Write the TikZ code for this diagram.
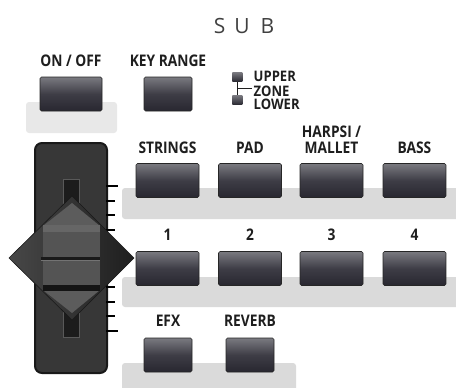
\documentclass[tikz,border=0pt]{standalone}
\usepackage{fontspec}
\newfontfamily\labfont[FakeStretch=0.86]{Open Sans}
\newfontfamily\zonefont[FakeStretch=0.9]{Open Sans}
\newfontfamily\subfont{Open Sans}
\definecolor{stripc}{RGB}{218,218,218}
\definecolor{onbg}{RGB}{232,232,232}
\definecolor{btop}{RGB}{122,122,128}
\definecolor{bmid}{RGB}{62,61,70}
\definecolor{bbot}{RGB}{40,39,48}
\definecolor{bodyc}{RGB}{55,55,55}
\definecolor{slotc}{RGB}{28,28,28}
\definecolor{capc}{RGB}{84,84,84}
\definecolor{capl}{RGB}{102,102,102}
\definecolor{txt}{RGB}{30,30,30}
\begin{document}
\begin{tikzpicture}[x=1pt,y=-1pt,
  btn/.style={rectangle, rounded corners=1.5pt, top color=btop, bottom color=bbot, middle color=bmid,
    draw=black!85, line width=0.6pt, inner sep=0, minimum height=34pt},
  wide/.style={btn, minimum width=63pt},
  narrow/.style={btn, minimum width=48pt},
  lab/.style={font=\labfont\bfseries\fontsize{16}{18}\selectfont, text=txt, inner sep=0, anchor=base},
  zlab/.style={font=\zonefont\bfseries\fontsize{14.5}{16}\selectfont, text=txt, inner sep=0, anchor=base west},
  strip/.style={fill=stripc, rounded corners=3pt},
  sq/.style={rectangle, inner sep=0, minimum width=10pt, minimum height=9.5pt, top color=btop, bottom color=bbot},
  tick/.style={line width=1.6pt, black}
]
\useasboundingbox (0,0) rectangle (456,388);

% title
\node[font=\subfont\fontsize{21}{24}\selectfont, text=black!75, inner sep=0, anchor=base] (sub) at (244,33) {S\hspace{9pt}U\hspace{11pt}B};

% background strips
\fill[fill=onbg, rounded corners=3pt] (26,102) rectangle (117,133);
\fill[strip] (122,188) rectangle (462,219);
\fill[strip] (122,277) rectangle (462,307);
\fill[strip] (122,363) rectangle (296,394);

% top buttons
\node[lab] (onoffl) at (71,66) {ON / OFF};
\node[lab] (keyl) at (168,66) {KEY RANGE};
\node[btn, minimum width=62pt] (onoff) at (71,94) {};
\node[narrow] (key) at (168,94) {};

% zone indicator
\node[sq] (zup) at (237.3,77) {};
\node[sq] (zlo) at (237.3,100) {};
\coordinate (zj) at (237.3,88.5);
\coordinate (zend) at (251.7,88.5);
\draw[line width=0.8pt, txt] (zup.south) -- (zlo.north);
\draw[line width=0.8pt, txt] (zj) -- (zend);
\node[zlab] (upper) at (253.5,81.7) {UPPER};
\node[zlab] (zone) at (253.5,96) {ZONE};
\node[zlab] (lower) at (253.5,109.5) {LOWER};

% row 1
\node[lab] (l1) at (167.5,153) {STRINGS};
\node[lab] (l2) at (250,153) {PAD};
\node[lab] (l3a) at (331.5,137) {HARPSI /};
\node[lab] (l3b) at (331.5,153) {MALLET};
\node[lab] (l4) at (414.5,153) {BASS};
\node[wide] (b1) at (167.5,180.5) {};
\node[wide] (b2) at (250,180.5) {};
\node[wide] (b3) at (331.5,180.5) {};
\node[wide] (b4) at (414.5,180.5) {};

% row 2
\node[lab] (n1) at (167.5,240) {1};
\node[lab] (n2) at (250,240) {2};
\node[lab] (n3) at (331.5,240) {3};
\node[lab] (n4) at (414.5,240) {4};
\node[wide] (c1) at (167.5,268.5) {};
\node[wide] (c2) at (250,268.5) {};
\node[wide] (c3) at (331.5,268.5) {};
\node[wide] (c4) at (414.5,268.5) {};

% row 3
\node[lab] (efxl) at (168,326) {EFX};
\node[lab] (revl) at (250,326) {REVERB};
\node[narrow] (efx) at (168,355) {};
\node[narrow] (rev) at (250,355) {};

% slider
\draw[fill=bodyc, draw=black!90, line width=2pt, rounded corners=7pt] (35,143) rectangle (107,373);
\draw[fill=slotc, draw=black!65, line width=0.6pt] (63,179) rectangle (79,337);
\foreach \yy/\xe in {186/118,201/115,215/115,230/115,287/115,302/115,316/115,331/118}
  \draw[tick] (106,\yy) -- (\xe,\yy);
% diamond
\draw[left color=black!72, right color=black!88, draw=black!90, line width=0.6pt]
  (9,258) -- (72,196) -- (134,258) -- (72,320) -- cycle;
\fill[black!64] (43,226) -- (72,203) -- (100,226) -- cycle;
\fill[black!64] (43,290) -- (100,290) -- (72,313) -- cycle;
\fill[capc] (43,225) rectangle (100,291);
\fill[capl] (43,225) rectangle (100,232);
\fill[black!90] (41,257) rectangle (100,260);
\fill[black!55] (41,260) rectangle (100,261);
\fill[black!92] (43,285) rectangle (100,291);
\end{tikzpicture}
\end{document}
